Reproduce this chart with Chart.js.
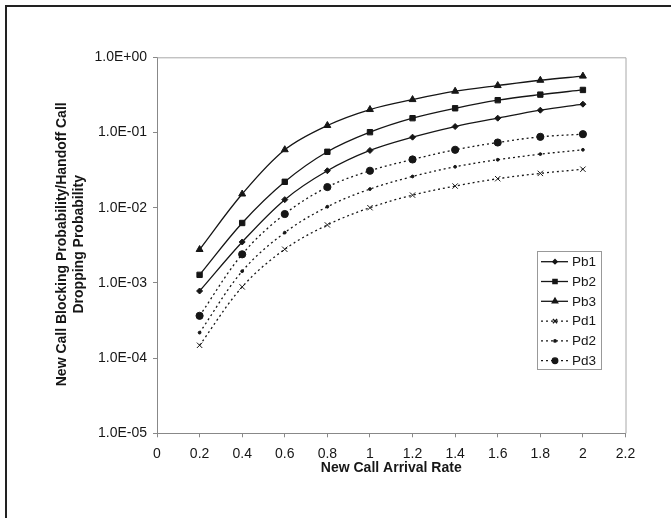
<!DOCTYPE html>
<html>
<head>
<meta charset="utf-8">
<script src="https://cdn.jsdelivr.net/npm/chart.js@4/dist/chart.umd.min.js"></script>
<style>
  html, body { margin: 0; padding: 0; background: #fff; }
  #wrap { position: relative; width: 671px; height: 518px; }
  #frame {
    position: absolute; left: 5px; top: 5px; right: 0; bottom: 0;
    border-top: 2.5px solid #222; border-left: 2.5px solid #222;
    pointer-events: none;
  }
</style>
</head>
<body>
<div id="wrap">
  <canvas id="probChart" width="671" height="518"></canvas>
  <div id="frame"></div>
</div>
<script>
// Arrival rates and probabilities for each curve
const arrivalRates = [0.2, 0.4, 0.6, 0.8, 1.0, 1.2, 1.4, 1.6, 1.8, 2.0];
const pb1 = [7.8e-4, 3.5e-3, 1.28e-2, 3.1e-2, 5.77e-2, 8.67e-2, 0.120, 0.155, 0.198, 0.238];
const pb2 = [1.28e-3, 6.26e-3, 2.21e-2, 5.54e-2, 0.101, 0.155, 0.210, 0.269, 0.319, 0.368];
const pb3 = [2.78e-3, 1.52e-2, 5.9e-2, 0.124, 0.202, 0.274, 0.354, 0.421, 0.495, 0.562];
const pd1 = [1.48e-4, 8.85e-4, 2.8e-3, 5.9e-3, 1.0e-2, 1.47e-2, 1.94e-2, 2.43e-2, 2.86e-2, 3.25e-2];
const pd2 = [2.18e-4, 1.43e-3, 4.66e-3, 1.03e-2, 1.77e-2, 2.6e-2, 3.5e-2, 4.34e-2, 5.16e-2, 5.89e-2];
const pd3 = [3.65e-4, 2.4e-3, 8.24e-3, 1.88e-2, 3.1e-2, 4.38e-2, 5.89e-2, 7.36e-2, 8.76e-2, 9.5e-2];

const xTicks = [0, 0.2, 0.4, 0.6, 0.8, 1, 1.2, 1.4, 1.6, 1.8, 2, 2.2];
const yTicks = [1e-5, 1e-4, 1e-3, 1e-2, 1e-1, 1];

const xTitle = 'New Call Arrival Rate';
const yTitle = ['New Call Blocking Probability/Handoff Call', 'Dropping Probability'];

const FONT = "'Liberation Sans', Arial, sans-serif";
const INK = '#161616';

function sciLabel(v) {
    const e = Math.round(Math.log10(v));
    return '1.0E' + (e < 0 ? '-' : '+') + String(Math.abs(e)).padStart(2, '0');
}

function series(label, values, style, radius, dashed) {
    return {
        label: label,
        data: arrivalRates.map((x, i) => ({ x: x, y: values[i] })),
        borderColor: INK,
        borderWidth: 1.3,
        borderDash: dashed ? [2, 3] : [],
        backgroundColor: INK,
        pointStyle: style,
        pointRadius: radius,
        pointBackgroundColor: INK,
        pointBorderColor: INK,
        pointBorderWidth: 1,
        tension: 0.35,
        fill: false
    };
}

// frame, axis titles and the boxed legend
const decorations = {
    id: 'decorations',
    beforeDatasetsDraw(chart) {
        const { ctx, chartArea: a } = chart;
        ctx.save();
        ctx.strokeStyle = '#a8a8a8';
        ctx.lineWidth = 1;
        ctx.beginPath();
        ctx.moveTo(a.left, a.top + 0.5);
        ctx.lineTo(a.right + 0.5, a.top + 0.5);
        ctx.lineTo(a.right + 0.5, a.bottom);
        ctx.stroke();
        ctx.restore();
    },
    afterDraw(chart) {
        const { ctx, chartArea: a } = chart;
        ctx.save();
        ctx.fillStyle = INK;
        ctx.font = 'bold 14px ' + FONT;
        ctx.textAlign = 'center';
        ctx.textBaseline = 'middle';
        ctx.fillText(xTitle, (a.left + a.right) / 2, 468.5);

        ctx.translate(0, (a.top + a.bottom) / 2 - 1);
        ctx.rotate(-Math.PI / 2);
        ctx.fillText(yTitle[0], 0, 62);
        ctx.fillText(yTitle[1], 0, 79.5);
        ctx.restore();

        // legend
        const bx = 537.5, by = 251.5, bw = 64, bh = 118;
        ctx.save();
        ctx.fillStyle = '#fff';
        ctx.fillRect(bx, by, bw, bh);
        ctx.strokeStyle = '#999';
        ctx.lineWidth = 1;
        ctx.strokeRect(bx, by, bw, bh);
        chart.data.datasets.forEach((ds, i) => {
            const y = 261.7 + i * 19.8;
            ctx.strokeStyle = ds.borderColor;
            ctx.lineWidth = ds.borderWidth;
            ctx.setLineDash(ds.borderDash);
            ctx.beginPath();
            ctx.moveTo(541, y);
            ctx.lineTo(568, y);
            ctx.stroke();
            ctx.setLineDash([]);
            ctx.fillStyle = INK;
            ctx.strokeStyle = INK;
            Chart.helpers.drawPoint(ctx, {
                pointStyle: ds.pointStyle,
                radius: Math.max(ds.pointRadius - 0.8, 1.2),
                rotation: 0,
                borderWidth: 1
            }, 555, y);
            ctx.fillStyle = INK;
            ctx.font = '13.5px ' + FONT;
            ctx.textAlign = 'left';
            ctx.textBaseline = 'middle';
            ctx.fillText(ds.label, 572, y + 0.5);
        });
        ctx.restore();
    }
};

new Chart(document.getElementById('probChart'), {
    type: 'line',
    data: {
        datasets: [
            series('Pb1', pb1, 'rectRot', 3, false),
            series('Pb2', pb2, 'rect', 3.8, false),
            series('Pb3', pb3, 'triangle', 4, false),
            series('Pd1', pd1, 'crossRot', 3.8, true),
            series('Pd2', pd2, 'circle', 1.4, true),
            series('Pd3', pd3, 'circle', 3.6, true)
        ]
    },
    options: {
        responsive: false,
        animation: false,
        layout: { padding: { left: 0, top: 57.3, right: 45.5, bottom: 0 } },
        plugins: {
            legend: { display: false },
            tooltip: { enabled: false }
        },
        scales: {
            x: {
                type: 'linear',
                min: 0,
                max: 2.2,
                afterBuildTicks: (scale) => { scale.ticks = xTicks.map(v => ({ value: v })); },
                afterFit: (scale) => { scale.height = 84.7; },
                ticks: {
                    color: INK,
                    font: { family: FONT, size: 14 },
                    padding: 8,
                    maxRotation: 0,
                    autoSkip: false,
                    callback: (v) => String(Number(v.toFixed(1)))
                },
                grid: { drawOnChartArea: false, drawTicks: true, tickLength: 4, color: '#888' },
                border: { display: true, color: '#888', width: 1 }
            },
            y: {
                type: 'logarithmic',
                min: 1e-5,
                max: 1,
                afterBuildTicks: (scale) => { scale.ticks = yTicks.map(v => ({ value: v })); },
                afterFit: (scale) => { scale.width = 157; },
                ticks: {
                    color: INK,
                    font: { family: FONT, size: 14 },
                    padding: 6,
                    autoSkip: false,
                    callback: (v) => sciLabel(v)
                },
                grid: { drawOnChartArea: false, drawTicks: true, tickLength: 4, color: '#888' },
                border: { display: true, color: '#888', width: 1 }
            }
        }
    },
    plugins: [decorations]
});
</script>
</body>
</html>
